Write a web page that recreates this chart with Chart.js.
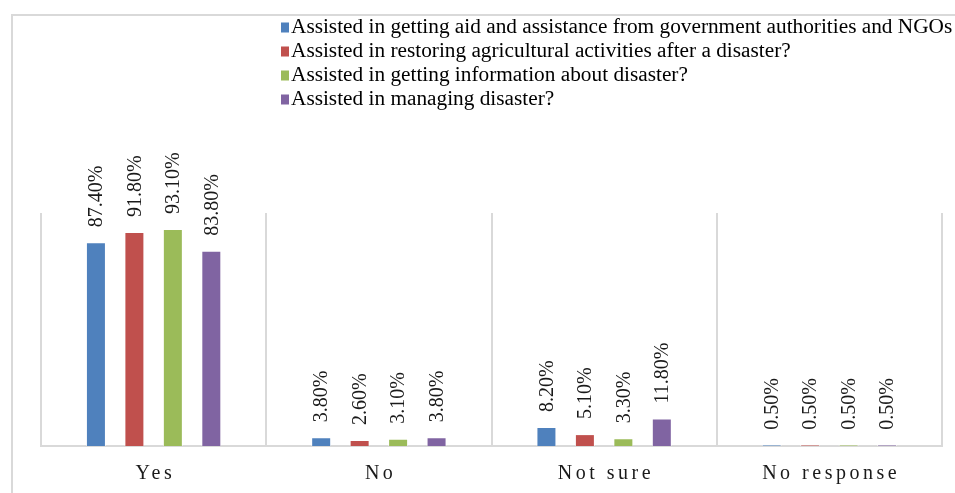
<!DOCTYPE html>
<html>
<head>
<meta charset="utf-8">
<script src="https://cdn.jsdelivr.net/npm/chart.js@4/dist/chart.umd.min.js"></script>
<style>
  html, body { margin: 0; padding: 0; background: #ffffff; }
  #wrap { width: 955px; height: 493px; position: relative; }
</style>
</head>
<body>
<div id="wrap"><canvas id="chart" width="955" height="493"></canvas></div>
<script>
// Response categories along the x axis
const categories = ['Yes', 'No', 'Not sure', 'No response'];

// Survey questions (one series each)
const seriesNames = [
  'Assisted in getting aid and assistance from government authorities and NGOs',
  'Assisted in restoring agricultural activities after a disaster?',
  'Assisted in getting information about disaster?',
  'Assisted in managing disaster?'
];

// Share of respondents (%) per category
const aidAssistance      = [87.4, 3.8, 8.2, 0.5];
const agriRestoration    = [91.8, 2.6, 5.1, 0.5];
const disasterInfo       = [93.1, 3.1, 3.3, 0.5];
const disasterManagement = [83.8, 3.8, 11.8, 0.5];

const seriesValues = [aidAssistance, agriRestoration, disasterInfo, disasterManagement];
const seriesColors = ['#4F81BD', '#C0504D', '#9BBB59', '#8064A2'];

const FONT = '"Liberation Serif", "Times New Roman", serif';

// Light frame around the whole figure
const framePlugin = {
  id: 'frame',
  beforeDraw(chart) {
    const ctx = chart.ctx;
    ctx.save();
    ctx.strokeStyle = '#d9d9d9';
    ctx.lineWidth = 2;
    ctx.beginPath();
    ctx.moveTo(12, chart.height);
    ctx.lineTo(12, 15);
    ctx.lineTo(chart.width, 15);
    ctx.stroke();
    ctx.restore();
  }
};

// Vertical value labels above each bar
const valueLabels = {
  id: 'valueLabels',
  afterDatasetsDraw(chart) {
    const ctx = chart.ctx;
    ctx.save();
    ctx.font = '20px ' + FONT;
    ctx.fillStyle = '#1a1a1a';
    ctx.textAlign = 'left';
    ctx.textBaseline = 'middle';
    chart.data.datasets.forEach((ds, di) => {
      const meta = chart.getDatasetMeta(di);
      meta.data.forEach((bar, i) => {
        const txt = ds.data[i].toFixed(2) + '%';
        ctx.save();
        ctx.translate(bar.x + 1, bar.y - 15);
        ctx.rotate(-Math.PI / 2);
        ctx.fillText(txt, 0, 0);
        ctx.restore();
      });
    });
    ctx.restore();
  }
};

// Category names under the axis, letter-spaced
const categoryLabels = {
  id: 'categoryLabels',
  afterDraw(chart) {
    const ctx = chart.ctx;
    const xs = chart.scales.x;
    const spacing = 3.5;
    ctx.save();
    ctx.font = '20px ' + FONT;
    ctx.fillStyle = '#1a1a1a';
    ctx.textBaseline = 'middle';
    ctx.textAlign = 'left';
    ctx.letterSpacing = spacing + 'px';
    chart.data.labels.forEach((lab, i) => {
      const x = xs.getPixelForTick(i);
      const w = ctx.measureText(lab).width - spacing;
      ctx.fillText(lab, x - w / 2, 474);
    });
    ctx.restore();
  }
};

// Stacked legend, one question per line
const stackedLegend = {
  id: 'stackedLegend',
  afterDraw(chart) {
    const ctx = chart.ctx;
    ctx.save();
    ctx.font = '21.3px ' + FONT;
    ctx.textBaseline = 'middle';
    ctx.textAlign = 'left';
    chart.data.datasets.forEach((ds, i) => {
      const cy = 27.5 + i * 24;
      ctx.fillStyle = ds.backgroundColor;
      ctx.fillRect(281, cy - 5, 8, 10);
      ctx.fillStyle = '#000000';
      ctx.fillText(ds.label, 291, cy);
    });
    ctx.restore();
  }
};

const datasets = seriesNames.map((name, i) => ({
  label: name,
  data: seriesValues[i],
  backgroundColor: seriesColors[i],
  borderColor: 'rgba(255,255,255,0.6)',
  borderWidth: 1,
  categoryPercentage: 0.683,
  barPercentage: 0.52
}));

new Chart(document.getElementById('chart'), {
  type: 'bar',
  data: { labels: categories, datasets },
  options: {
    responsive: false,
    animation: false,
    layout: { padding: { left: 41, right: 13, top: 213, bottom: 47 } },
    plugins: {
      legend: { display: false },
      tooltip: { enabled: false }
    },
    scales: {
      x: {
        offset: true,
        grid: { display: true, offset: true, color: '#d9d9d9', lineWidth: 2, drawTicks: false },
        border: { display: true, color: '#d9d9d9', width: 2 },
        ticks: { display: false }
      },
      y: {
        display: false,
        min: 0,
        max: 100
      }
    }
  },
  plugins: [framePlugin, valueLabels, categoryLabels, stackedLegend]
});
</script>
</body>
</html>
